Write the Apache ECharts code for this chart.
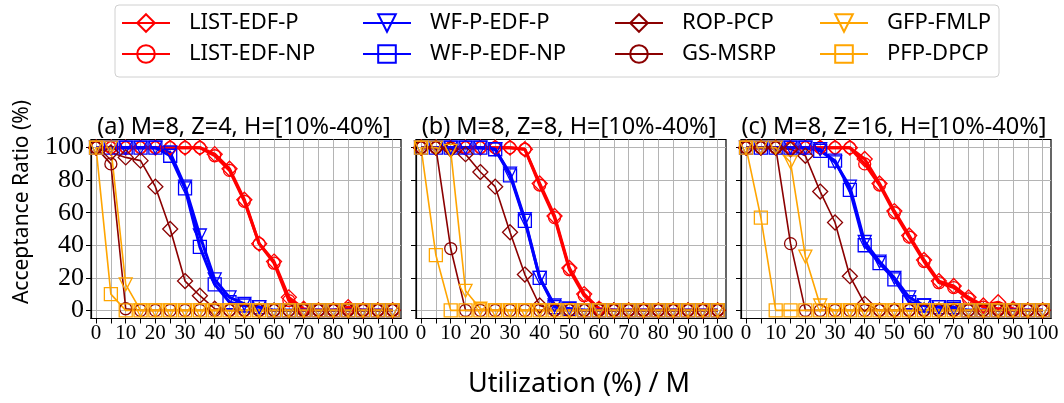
<!DOCTYPE html>
<html>
<head>
<meta charset="utf-8">
<script src="https://cdn.jsdelivr.net/npm/echarts@6/dist/echarts.min.js"></script>
<style>
html, body { margin: 0; padding: 0; background: #fff; }
#main { width: 1064px; height: 403px; }
</style>
</head>
<body>
<div id="main"></div>
<script>
// x values (utilization % / M) and tick labels
var utilization = [0, 5, 10, 15, 20, 25, 30, 35, 40, 45, 50, 55, 60, 65, 70, 75, 80, 85, 90, 95, 100];
var xLabelTicks = [0, 10, 20, 30, 40, 50, 60, 70, 80, 90, 100];
var yLabelTicks = [0, 20, 40, 60, 80, 100];
var panelTitles = ['(a) M=8, Z=4, H=[10%-40%]', '(b) M=8, Z=8, H=[10%-40%]', '(c) M=8, Z=16, H=[10%-40%]'];
var seriesNames = ['LIST-EDF-P', 'LIST-EDF-NP', 'WF-P-EDF-P', 'WF-P-EDF-NP', 'ROP-PCP', 'GS-MSRP', 'GFP-FMLP', 'PFP-DPCP'];

// panel (a) M=8, Z=4
var a_listEdfP  = [100, 100, 100, 100, 100, 100, 100, 100, 96, 87, 68, 41, 30, 8, 1, 0, 0, 2, 0, 0, 0];
var a_listEdfNP = [100, 100, 100, 100, 100, 100, 100, 100, 95, 86, 67, 41, 29, 6, 0, 0, 0, 1, 0, 0, 0];
var a_wfpEdfP   = [100, 100, 100, 100, 100, 97, 76, 46, 19, 8, 4, 2, 0, 0, 0, 0, 0, 0, 0, 0, 0];
var a_wfpEdfNP  = [100, 100, 100, 100, 100, 95, 75, 39, 16, 5, 3, 2, 0, 0, 0, 0, 0, 0, 0, 0, 0];
var a_ropPcp    = [100, 97, 94, 92, 76, 50, 18, 9, 1, 0, 0, 0, 0, 0, 0, 0, 0, 0, 0, 0, 0];
var a_gsMsrp    = [100, 90, 1, 0, 0, 0, 0, 0, 0, 0, 0, 0, 0, 0, 0, 0, 0, 0, 0, 0, 0];
var a_gfpFmlp   = [100, 100, 16, 0, 0, 0, 0, 0, 0, 0, 0, 0, 0, 0, 0, 0, 0, 0, 0, 0, 0];
var a_pfpDpcp   = [100, 10, 0, 0, 0, 0, 0, 0, 0, 0, 0, 0, 0, 0, 0, 0, 0, 0, 0, 0, 0];

// panel (b) M=8, Z=8
var b_listEdfP  = [100, 100, 100, 100, 100, 100, 100, 99, 78, 58, 26, 10, 1, 0, 0, 0, 0, 0, 0, 0, 0];
var b_listEdfNP = [100, 100, 100, 100, 100, 100, 100, 99, 77, 57, 25, 9, 1, 0, 0, 0, 0, 0, 0, 0, 0];
var b_wfpEdfP   = [100, 100, 100, 100, 100, 99, 84, 56, 20, 3, 1, 0, 0, 0, 0, 0, 0, 0, 0, 0, 0];
var b_wfpEdfNP  = [100, 100, 100, 100, 100, 99, 83, 55, 20, 2, 1, 0, 0, 0, 0, 0, 0, 0, 0, 0, 0];
var b_ropPcp    = [100, 100, 99, 96, 85, 76, 48, 22, 3, 0, 0, 0, 0, 0, 0, 0, 0, 0, 0, 0, 0];
var b_gsMsrp    = [100, 100, 38, 0, 0, 0, 0, 0, 0, 0, 0, 0, 0, 0, 0, 0, 0, 0, 0, 0, 0];
var b_gfpFmlp   = [100, 100, 98, 12, 1, 0, 0, 0, 0, 0, 0, 0, 0, 0, 0, 0, 0, 0, 0, 0, 0];
var b_pfpDpcp   = [100, 34, 0, 0, 0, 0, 0, 0, 0, 0, 0, 0, 0, 0, 0, 0, 0, 0, 0, 0, 0];

// panel (c) M=8, Z=16
var c_listEdfP  = [100, 100, 100, 100, 100, 100, 100, 100, 93, 78, 61, 46, 31, 18, 15, 8, 3, 5, 1, 0, 0];
var c_listEdfNP = [100, 100, 100, 100, 100, 100, 100, 100, 90, 77, 60, 45, 30, 17, 14, 7, 2, 1, 0, 0, 0];
var c_wfpEdfP   = [100, 100, 100, 100, 100, 99, 91, 76, 42, 30, 20, 8, 3, 2, 1, 0, 0, 0, 0, 0, 0];
var c_wfpEdfNP  = [100, 100, 100, 100, 100, 98, 92, 74, 40, 29, 19, 5, 3, 2, 2, 0, 0, 0, 0, 0, 0];
var c_ropPcp    = [100, 100, 100, 99, 95, 73, 54, 21, 4, 0, 0, 0, 0, 0, 0, 0, 0, 0, 0, 0, 0];
var c_gsMsrp    = [100, 100, 100, 41, 0, 0, 0, 0, 0, 0, 0, 0, 0, 0, 0, 0, 0, 0, 0, 0, 0];
var c_gfpFmlp   = [100, 100, 100, 91, 33, 3, 0, 0, 0, 0, 0, 0, 0, 0, 0, 0, 0, 0, 0, 0, 0];
var c_pfpDpcp   = [100, 57, 0, 0, 0, 0, 0, 0, 0, 0, 0, 0, 0, 0, 0, 0, 0, 0, 0, 0, 0];

var panels = [
  [a_listEdfP, a_listEdfNP, a_wfpEdfP, a_wfpEdfNP, a_ropPcp, a_gsMsrp, a_gfpFmlp, a_pfpDpcp],
  [b_listEdfP, b_listEdfNP, b_wfpEdfP, b_wfpEdfNP, b_ropPcp, b_gsMsrp, b_gfpFmlp, b_pfpDpcp],
  [c_listEdfP, c_listEdfNP, c_wfpEdfP, c_wfpEdfNP, c_ropPcp, c_gsMsrp, c_gfpFmlp, c_pfpDpcp]
];

var TEXT_FONT = '"Noto Sans", sans-serif';
var TICK_FONT = '"Liberation Serif", "DejaVu Serif", serif';

// marker / line look per method
var looks = [
  { color: '#ff0000', symbol: 'diamond',  size: 15, rotate: 0,   width: 3 },
  { color: '#ff0000', symbol: 'circle',   size: 12, rotate: 0,   width: 3 },
  { color: '#0000ff', symbol: 'triangle', size: 13, rotate: 180, width: 3 },
  { color: '#0000ff', symbol: 'rect',     size: 13, rotate: 0,   width: 3 },
  { color: '#8b0000', symbol: 'diamond',  size: 15, rotate: 0,   width: 1.6 },
  { color: '#8b0000', symbol: 'circle',   size: 12, rotate: 0,   width: 1.6 },
  { color: '#ffa500', symbol: 'triangle', size: 13, rotate: 180, width: 1.6 },
  { color: '#ffa500', symbol: 'rect',     size: 13, rotate: 0,   width: 1.6 }
];

var gridLefts = [91, 416, 741];
var gridTop = 139.5, gridW = 310, gridH = 179;

var grids = [], xAxes = [], yAxes = [], series = [], titles = [];
gridLefts.forEach(function (left, p) {
  grids.push({
    left: left, top: gridTop, width: gridW, height: gridH,
    show: true, borderColor: '#000', borderWidth: 1.2, backgroundColor: 'transparent'
  });
  xAxes.push({
    type: 'value', gridIndex: p, min: -1.7, max: 102.8,
    axisLine: { show: true, onZero: false, lineStyle: { color: '#000', width: 1.2 } },
    axisTick: { show: true, customValues: utilization, length: 5, lineStyle: { color: '#000' } },
    axisLabel: { customValues: xLabelTicks, margin: 4, color: '#000', fontSize: 21, fontFamily: TICK_FONT },
    splitLine: { show: true, lineStyle: { color: '#b4b4b4', width: 1 } }
  });
  yAxes.push({
    type: 'value', gridIndex: p, min: -5, max: 105,
    axisLine: { show: true, onZero: false, lineStyle: { color: '#000', width: 1.2 } },
    axisTick: { show: true, customValues: yLabelTicks, length: 5, lineStyle: { color: '#000' } },
    axisLabel: { show: p === 0, customValues: yLabelTicks, margin: 7, color: '#000', fontSize: 26, fontFamily: TICK_FONT },
    splitLine: { show: true, lineStyle: { color: '#b4b4b4', width: 1 } }
  });
  titles.push({
    text: panelTitles[p], left: left + gridW / 2 - 7, top: 108, textAlign: 'center',
    textStyle: { fontSize: 23.5, fontWeight: 'normal', color: '#000', fontFamily: TEXT_FONT, lineHeight: 28 }
  });
  panels[p].forEach(function (vals, k) {
    var lk = looks[k];
    series.push({
      name: seriesNames[k], type: 'line', xAxisIndex: p, yAxisIndex: p,
      data: utilization.map(function (u, i) { return [u, vals[i]]; }),
      symbol: lk.symbol, symbolSize: lk.size, symbolRotate: lk.rotate,
      showAllSymbol: true, clip: false,
      lineStyle: { color: lk.color, width: lk.width },
      itemStyle: { color: 'rgba(255,255,255,0)', borderColor: lk.color, borderWidth: 1.3 },
      emphasis: { disabled: true }
    });
  });
});

// four legend columns, two entries each
var legendLefts = [121, 362, 614, 819];
var legends = legendLefts.map(function (left, c) {
  return {
    orient: 'vertical', left: left, top: 12, padding: 0,
    itemWidth: 48, itemHeight: 22, itemGap: 9,
    data: [seriesNames[c * 2], seriesNames[c * 2 + 1]],
    textStyle: { fontSize: 22, color: '#000', fontFamily: TEXT_FONT, padding: [0, 0, 0, 14], lineHeight: 22 },
    selectedMode: false
  };
});

var option = {
  animation: false,
  backgroundColor: '#fff',
  title: titles,
  legend: legends,
  grid: grids,
  xAxis: xAxes,
  yAxis: yAxes,
  series: series,
  graphic: [
    { type: 'rect', shape: { x: 115, y: 5, width: 884, height: 72, r: 4 },
      style: { fill: 'none', stroke: '#d0d0d0', lineWidth: 1 }, z: -1 },
    { type: 'text', x: 22, y: 202, rotation: Math.PI / 2,
      style: { text: 'Acceptance Ratio (%)', font: '21px "Noto Sans"', fill: '#000', textAlign: 'center', textVerticalAlign: 'middle' } },
    { type: 'text', x: 579, y: 384,
      style: { text: 'Utilization (%) / M', font: '27px "Noto Sans"', fill: '#000', textAlign: 'center', textVerticalAlign: 'middle' } }
  ]
};

var myChart = echarts.init(document.getElementById('main'), null, { renderer: 'canvas' });
myChart.setOption(option);
</script>
</body>
</html>
